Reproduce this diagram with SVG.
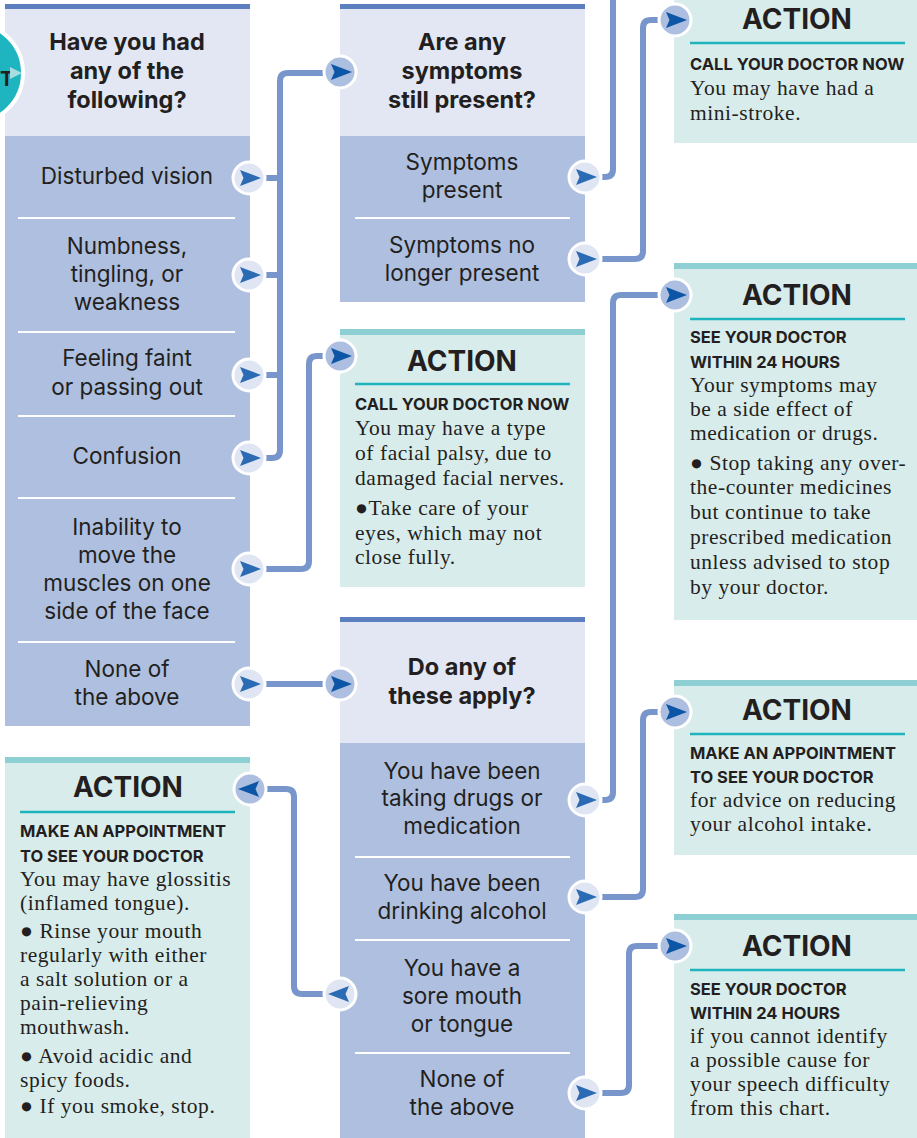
<svg xmlns="http://www.w3.org/2000/svg" xmlns:xlink="http://www.w3.org/1999/xlink" width="917" height="1138" viewBox="0 0 917 1138">
<style>
.stripe{fill:#5b7fbf}
.head{fill:#e2e7f3}
.opts{fill:#aebfdf}
.afill{fill:#d9ecec}
.astripe{fill:#8ecfd4}
.sep{stroke:#ffffff;stroke-width:2}
.tl{stroke:#1fb3bd;stroke-width:2.5}
.q{font-family:Inter,"Open Sans","Liberation Sans",sans-serif;font-weight:bold;font-size:23.5px;fill:#231f20;text-anchor:middle}
.o{font-family:Inter,"Open Sans","Liberation Sans",sans-serif;font-size:22.5px;fill:#231f20;text-anchor:middle}
.act{font-family:Inter,"Open Sans","Liberation Sans",sans-serif;font-weight:bold;font-size:28px;fill:#231f20;text-anchor:middle}
.cap{font-family:Inter,"Open Sans","Liberation Sans",sans-serif;font-weight:bold;font-size:16.5px;fill:#231f20}
.b{font-family:"Liberation Serif","DejaVu Serif",serif;font-size:21.5px;letter-spacing:0.55px;fill:#231f20}
.con{fill:none;stroke:#7896cb;stroke-width:6;stroke-linecap:butt;stroke-linejoin:round}
.bl circle{fill:#dfe5f3;stroke:#ffffff;stroke-width:3}
.bl path{fill:#2b6bb4}
.bd circle{fill:#adbfe0;stroke:#ffffff;stroke-width:3}
.bd path{fill:#0d55a6}
</style>
<defs>
<g id="btnL" class="bl"><circle r="16"/><path d="M-9,-8 L12,0 L-9,8 L-5.5,0 Z"/></g>
<g id="btnD" class="bd"><circle r="16"/><path d="M-9,-8 L12,0 L-9,8 L-5.5,0 Z"/></g>
</defs>
<rect width="917" height="1138" fill="#ffffff"/>

<!-- Q1 -->
<g id="q1">
<rect class="stripe" x="5" y="4" width="245" height="5"/>
<rect class="head" x="5" y="9" width="245" height="127"/>
<rect class="opts" x="5" y="136" width="245" height="590"/>
<text class="q" x="127" y="50">Have you had</text>
<text class="q" x="127" y="79">any of the</text>
<text class="q" x="127" y="108">following?</text>
<line class="sep" x1="18" y1="218" x2="235" y2="218"/>
<line class="sep" x1="18" y1="332" x2="235" y2="332"/>
<line class="sep" x1="18" y1="416" x2="235" y2="416"/>
<line class="sep" x1="18" y1="498" x2="235" y2="498"/>
<line class="sep" x1="18" y1="642" x2="235" y2="642"/>
<text class="o" x="127" y="184">Disturbed vision</text>
<text class="o" x="127" y="254">Numbness,</text>
<text class="o" x="127" y="282">tingling, or</text>
<text class="o" x="127" y="310">weakness</text>
<text class="o" x="127" y="366">Feeling faint</text>
<text class="o" x="127" y="395">or passing out</text>
<text class="o" x="127" y="464">Confusion</text>
<text class="o" x="127" y="535">Inability to</text>
<text class="o" x="127" y="563">move the</text>
<text class="o" x="127" y="591">muscles on one</text>
<text class="o" x="127" y="619">side of the face</text>
<text class="o" x="127" y="677">None of</text>
<text class="o" x="127" y="705">the above</text>
</g>

<!-- start -->
<g id="start">
<circle cx="-27" cy="73" r="50" fill="#1fb5c0" stroke="#ffffff" stroke-width="4"/>
<text x="0" y="86" font-family="Inter,'Open Sans','Liberation Sans',sans-serif" font-weight="bold" font-size="20" fill="#231f20">T</text>
<path d="M10,67 L22,73 L10,79 Z" fill="#a8dde0"/>
</g>

<!-- Q2 -->
<g id="q2">
<rect class="stripe" x="340" y="4" width="245" height="5"/>
<rect class="head" x="340" y="9" width="245" height="127"/>
<rect class="opts" x="340" y="136" width="245" height="166"/>
<text class="q" x="462" y="50">Are any</text>
<text class="q" x="462" y="79">symptoms</text>
<text class="q" x="462" y="108">still present?</text>
<line class="sep" x1="355" y1="218" x2="570" y2="218"/>
<text class="o" x="462" y="170">Symptoms</text>
<text class="o" x="462" y="198">present</text>
<text class="o" x="462" y="253">Symptoms no</text>
<text class="o" x="462" y="281">longer present</text>
</g>

<!-- Q3 -->
<g id="q3">
<rect class="stripe" x="340" y="617" width="245" height="5"/>
<rect class="head" x="340" y="622" width="245" height="121"/>
<rect class="opts" x="340" y="743" width="245" height="395"/>
<text class="q" x="462" y="675">Do any of</text>
<text class="q" x="462" y="704">these apply?</text>
<line class="sep" x1="355" y1="857" x2="570" y2="857"/>
<line class="sep" x1="355" y1="940" x2="570" y2="940"/>
<line class="sep" x1="355" y1="1053" x2="570" y2="1053"/>
<text class="o" x="462" y="779">You have been</text>
<text class="o" x="462" y="806">taking drugs or</text>
<text class="o" x="462" y="834">medication</text>
<text class="o" x="462" y="891">You have been</text>
<text class="o" x="462" y="919">drinking alcohol</text>
<text class="o" x="462" y="976">You have a</text>
<text class="o" x="462" y="1004">sore mouth</text>
<text class="o" x="462" y="1032">or tongue</text>
<text class="o" x="462" y="1087">None of</text>
<text class="o" x="462" y="1115">the above</text>
</g>

<!-- Action: mini-stroke -->
<g id="a1">
<rect class="afill" x="674" y="0" width="243" height="143"/>
<text class="act" x="797" y="29">ACTION</text>
<line class="tl" x1="690" y1="43" x2="905" y2="43"/>
<text class="cap" x="690" y="70">CALL YOUR DOCTOR NOW</text>
<text class="b" x="690" y="95">You may have had a</text>
<text class="b" x="690" y="120">mini-stroke.</text>
</g>

<!-- Action: facial palsy -->
<g id="a2">
<rect class="astripe" x="340" y="329" width="245" height="6"/>
<rect class="afill" x="340" y="335" width="245" height="252"/>
<text class="act" x="462" y="371">ACTION</text>
<line class="tl" x1="355" y1="384" x2="570" y2="384"/>
<text class="cap" x="355" y="410">CALL YOUR DOCTOR NOW</text>
<text class="b" x="355" y="435">You may have a type</text>
<text class="b" x="355" y="460">of facial palsy, due to</text>
<text class="b" x="355" y="485">damaged facial nerves.</text>
<text class="b" x="355" y="515">●Take care of your</text>
<text class="b" x="355" y="540">eyes, which may not</text>
<text class="b" x="355" y="564">close fully.</text>
</g>

<!-- Action: medication -->
<g id="a3">
<rect class="astripe" x="674" y="263" width="243" height="6"/>
<rect class="afill" x="674" y="269" width="243" height="351"/>
<text class="act" x="797" y="305">ACTION</text>
<line class="tl" x1="690" y1="319" x2="905" y2="319"/>
<text class="cap" x="690" y="343">SEE YOUR DOCTOR</text>
<text class="cap" x="690" y="368">WITHIN 24 HOURS</text>
<text class="b" x="690" y="392">Your symptoms may</text>
<text class="b" x="690" y="416">be a side effect of</text>
<text class="b" x="690" y="440">medication or drugs.</text>
<text class="b" x="690" y="470">● Stop taking any over-</text>
<text class="b" x="690" y="494">the-counter medicines</text>
<text class="b" x="690" y="519">but continue to take</text>
<text class="b" x="690" y="544">prescribed medication</text>
<text class="b" x="690" y="569">unless advised to stop</text>
<text class="b" x="690" y="594">by your doctor.</text>
</g>

<!-- Action: alcohol -->
<g id="a4">
<rect class="astripe" x="674" y="680" width="243" height="6"/>
<rect class="afill" x="674" y="686" width="243" height="169"/>
<text class="act" x="797" y="720">ACTION</text>
<line class="tl" x1="690" y1="734" x2="905" y2="734"/>
<text class="cap" x="690" y="759">MAKE AN APPOINTMENT</text>
<text class="cap" x="690" y="783">TO SEE YOUR DOCTOR</text>
<text class="b" x="690" y="807">for advice on reducing</text>
<text class="b" x="690" y="831">your alcohol intake.</text>
</g>

<!-- Action: speech -->
<g id="a5">
<rect class="astripe" x="674" y="914" width="243" height="6"/>
<rect class="afill" x="674" y="920" width="243" height="218"/>
<text class="act" x="797" y="956">ACTION</text>
<line class="tl" x1="690" y1="970" x2="905" y2="970"/>
<text class="cap" x="690" y="995">SEE YOUR DOCTOR</text>
<text class="cap" x="690" y="1019">WITHIN 24 HOURS</text>
<text class="b" x="690" y="1043">if you cannot identify</text>
<text class="b" x="690" y="1067">a possible cause for</text>
<text class="b" x="690" y="1091">your speech difficulty</text>
<text class="b" x="690" y="1115">from this chart.</text>
</g>

<!-- Action: glossitis -->
<g id="a6">
<rect class="astripe" x="5" y="757" width="245" height="6"/>
<rect class="afill" x="5" y="763" width="245" height="375"/>
<text class="act" x="128" y="797">ACTION</text>
<line class="tl" x1="20" y1="812" x2="235" y2="812"/>
<text class="cap" x="20" y="837">MAKE AN APPOINTMENT</text>
<text class="cap" x="20" y="862">TO SEE YOUR DOCTOR</text>
<text class="b" x="20" y="886">You may have glossitis</text>
<text class="b" x="20" y="910">(inflamed tongue).</text>
<text class="b" x="20" y="938">● Rinse your mouth</text>
<text class="b" x="20" y="962">regularly with either</text>
<text class="b" x="20" y="986">a salt solution or a</text>
<text class="b" x="20" y="1010">pain-relieving</text>
<text class="b" x="20" y="1034">mouthwash.</text>
<text class="b" x="20" y="1063">● Avoid acidic and</text>
<text class="b" x="20" y="1087">spicy foods.</text>
<text class="b" x="20" y="1113">● If you smoke, stop.</text>
</g>

<!-- connectors -->
<g id="connectors">
<path class="con" d="M325,73 H288 Q280,73 280,81 V450 Q280,458 272,458 H262"/>
<path class="con" d="M262,178 H280"/>
<path class="con" d="M262,275 H280"/>
<path class="con" d="M262,375 H280"/>
<path class="con" d="M262,569 H301 Q309,569 309,561 V364 Q309,356 317,356 H325"/>
<path class="con" d="M262,684 H325"/>
<path class="con" d="M597,177 H605 Q613,177 613,169 V-5"/>
<path class="con" d="M597,259 H635 Q643,259 643,251 V28 Q643,20 651,20 H660"/>
<path class="con" d="M597,800 H605 Q613,800 613,792 V303 Q613,295 621,295 H660"/>
<path class="con" d="M597,897 H635 Q643,897 643,889 V720 Q643,712 651,712 H660"/>
<path class="con" d="M597,1093 H621 Q629,1093 629,1085 V954 Q629,946 637,946 H660"/>
<path class="con" d="M328,994 H302 Q294,994 294,986 V797 Q294,789 286,789 H262"/>
</g>

<!-- buttons -->
<g id="buttons">
<use xlink:href="#btnL" x="249" y="178"/>
<use xlink:href="#btnL" x="249" y="275"/>
<use xlink:href="#btnL" x="249" y="375"/>
<use xlink:href="#btnL" x="249" y="458"/>
<use xlink:href="#btnL" x="249" y="569"/>
<use xlink:href="#btnL" x="249" y="684"/>
<use xlink:href="#btnD" x="340" y="72"/>
<use xlink:href="#btnD" x="340" y="356"/>
<use xlink:href="#btnD" x="340" y="684"/>
<use xlink:href="#btnL" x="585" y="177"/>
<use xlink:href="#btnL" x="585" y="259"/>
<use xlink:href="#btnD" x="675" y="20"/>
<use xlink:href="#btnD" x="675" y="295"/>
<use xlink:href="#btnL" x="585" y="800"/>
<use xlink:href="#btnL" x="585" y="897"/>
<use xlink:href="#btnL" x="585" y="1093"/>
<use xlink:href="#btnD" x="675" y="712"/>
<use xlink:href="#btnD" x="675" y="946"/>
<g transform="translate(340,994) scale(-1,1)"><use xlink:href="#btnL"/></g>
<g transform="translate(250,789) scale(-1,1)"><use xlink:href="#btnD"/></g>
</g>
</svg>
